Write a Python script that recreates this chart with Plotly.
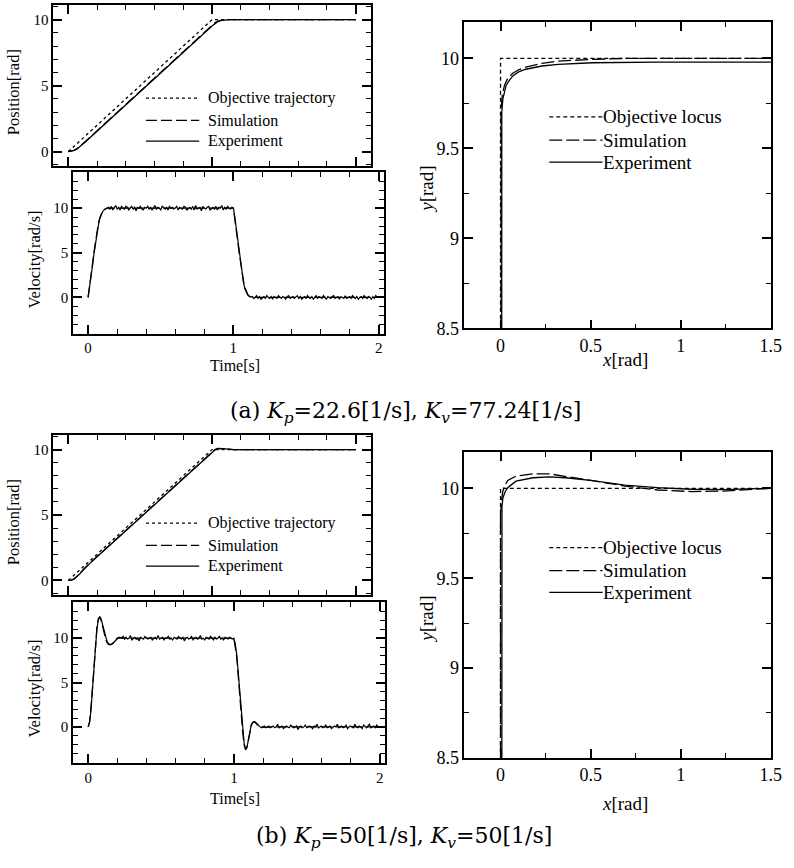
import plotly.graph_objects as go

W, H = 794, 868
FONT = "Liberation Serif, Times New Roman, Times, serif"
CAP_FONT = "DejaVu Serif, serif"

# ---------------- data: (a) Kp=22.6, Kv=77.24 ----------------
POS_OBJ_T = [0.0, 1.0, 2.0]
POS_OBJ_P = [0.0, 10.0, 10.0]

POS_T = [0.0, 0.02, 0.04, 0.06, 0.08, 0.10, 0.12, 0.15, 0.2, 0.5, 1.0, 1.02, 1.04, 1.06, 1.08, 1.10, 1.12, 1.15, 2.0]
POS_A_EXP = [0.0, 0.02, 0.08, 0.2, 0.36, 0.55, 0.74, 1.04, 1.53, 4.53, 9.53, 9.72, 9.85, 9.93, 9.97, 9.99, 10.0, 10.0, 10.0]
POS_A_SIM = [0.0, 0.02, 0.09, 0.22, 0.39, 0.58, 0.78, 1.08, 1.58, 4.58, 9.58, 9.77, 9.89, 9.95, 9.98, 10.0, 10.0, 10.0, 10.0]

VEL_A_SIM_T = [0.0, 0.01, 0.02, 0.03, 0.04, 0.05, 0.06, 0.07, 0.08, 0.09, 0.10, 0.11, 0.12, 0.13, 1.0,
               1.01, 1.02, 1.03, 1.04, 1.05, 1.06, 1.07, 1.08, 1.09, 1.10, 1.11, 1.12, 1.14, 2.0]
VEL_A_SIM = [0.0, 1.1, 2.4, 3.7, 5.0, 6.2, 7.3, 8.2, 8.9, 9.4, 9.7, 9.85, 9.95, 10.0, 10.0,
             8.9, 7.6, 6.3, 5.0, 3.8, 2.7, 1.8, 1.1, 0.6, 0.3, 0.15, 0.05, 0.0, 0.0]

# experiment velocity sampled every 0.01 s from 0 to 2 s
VEL_A_EXP = [
    0.0, 1.0, 2.2, 3.5, 4.8, 6.0, 7.1, 8.0, 8.8, 9.3, 9.6, 9.8, 9.9, 10.0,
    10.1, 9.9, 10.2, 9.8, 10.0, 10.3, 9.9, 10.1, 9.8, 10.2,
    10.0, 9.9, 10.2, 10.1, 9.8, 10.0, 10.2, 9.9, 10.1, 9.7,
    10.1, 10.0, 10.2, 9.9, 9.8, 10.1, 10.0, 10.2, 9.9, 10.1,
    9.8, 10.0, 10.3, 9.9, 10.1, 10.0, 9.8, 10.2, 10.0, 9.9,
    10.1, 9.8, 10.2, 10.0, 10.1, 9.9, 10.0, 10.2, 9.8, 10.1,
    10.0, 9.9, 10.2, 10.1, 9.8, 10.0, 10.1, 9.9, 10.2, 9.8,
    10.3, 9.9, 10.0, 10.1, 9.7, 10.2, 10.0, 9.9, 10.1, 10.2,
    9.8, 10.0, 10.1, 9.9, 10.2, 9.8, 10.1, 10.0, 10.3, 9.8,
    10.1, 9.9, 10.2, 10.0, 9.9, 10.1, 10.0,
    9.0, 7.8, 6.4, 5.0, 3.7, 2.5, 1.6, 0.9, 0.5, 0.25, 0.1, 0.05,
    0.1, -0.1, 0.0, 0.2, -0.1, 0.1, -0.2, 0.0, 0.1, -0.1,
    0.2, 0.0, -0.1, 0.1, -0.2, 0.1, 0.0, -0.1, 0.2, 0.0,
    -0.1, 0.1, 0.0, -0.2, 0.1, 0.2, -0.1, 0.0, 0.1, -0.1,
    0.0, 0.2, -0.1, 0.1, -0.2, 0.0, 0.1, -0.1, 0.2, 0.0,
    -0.1, 0.1, -0.2, 0.0, 0.2, -0.1, 0.1, 0.0, -0.1, 0.2,
    0.0, -0.2, 0.1, 0.0, -0.1, 0.1, 0.2, -0.1, 0.0, 0.1,
    -0.2, 0.1, 0.0, -0.1, 0.2, -0.1, 0.0, 0.1, -0.1, 0.2,
    0.0, -0.1, 0.1, -0.2, 0.0, 0.1, -0.1, 0.2, 0.0, -0.1,
    0.1, 0.0, -0.2, 0.1, -0.1, 0.2, 0.0, 0.0,
]

XY_OBJ_X = [0.0, 0.0, 1.5]
XY_OBJ_Y = [0.0, 10.0, 10.0]
XY_A_SIM_X = [0.0, 0.0, 0.003, 0.01, 0.022, 0.04, 0.068, 0.1, 0.14, 0.23, 0.32, 0.51, 0.69, 1.0, 1.5]
XY_A_SIM_Y = [0.0, 9.6, 9.72, 9.8, 9.85, 9.89, 9.918, 9.937, 9.952, 9.973, 9.985, 9.995, 10.0, 10.0, 10.0]
XY_A_EXP_X = [0.004, 0.004, 0.007, 0.013, 0.031, 0.05, 0.068, 0.1, 0.14, 0.23, 0.32, 0.51, 0.87, 1.5]
XY_A_EXP_Y = [0.0, 9.55, 9.7, 9.775, 9.85, 9.88, 9.903, 9.925, 9.94, 9.958, 9.967, 9.976, 9.98, 9.98]

# ---------------- data: (b) Kp=50, Kv=50 ----------------
POS_B_T = [0.0, 0.02, 0.04, 0.06, 0.08, 0.10, 0.12, 0.15, 0.2, 0.5, 1.0, 1.02, 1.04, 1.06, 1.08, 1.10, 1.12, 1.15, 1.2, 2.0]
POS_B_EXP = [0.0, 0.02, 0.1, 0.27, 0.5, 0.75, 0.99, 1.3, 1.8, 4.8, 9.8, 9.97, 10.07, 10.1, 10.08, 10.05, 10.02, 10.0, 10.0, 10.0]
POS_B_SIM = [0.0, 0.02, 0.11, 0.29, 0.53, 0.78, 1.02, 1.33, 1.82, 4.82, 9.82, 10.0, 10.09, 10.11, 10.08, 10.04, 10.01, 9.99, 10.0, 10.0]

VEL_B_SIM_T = [0.0, 0.01, 0.02, 0.03, 0.04, 0.05, 0.06, 0.07, 0.08, 0.09, 0.10, 0.11, 0.12, 0.13, 0.14,
               0.15, 0.16, 0.17, 0.18, 0.19, 0.20, 0.22, 0.26, 1.0,
               1.01, 1.02, 1.03, 1.04, 1.05, 1.06, 1.07, 1.08, 1.09, 1.10, 1.11, 1.12, 1.13, 1.14, 1.15,
               1.16, 1.18, 1.22, 1.26, 2.0]
VEL_B_SIM = [0.0, 0.6, 2.2, 4.4, 7.0, 9.2, 11.1, 12.2, 12.4, 12.0, 11.3, 10.5, 9.9, 9.5, 9.3,
             9.25, 9.3, 9.45, 9.65, 9.85, 10.0, 10.05, 10.0, 10.0,
             9.1, 7.8, 5.7, 3.5, 1.4, -0.5, -2.0, -2.6, -2.3, -1.4, -0.4, 0.2, 0.5, 0.55, 0.45,
             0.25, 0.0, -0.05, 0.0, 0.0]

VEL_B_EXP = [
    0.0, 0.5, 2.0, 4.2, 6.8, 9.0, 11.0, 12.1, 12.4, 12.1, 11.5, 10.7, 10.0, 9.6, 9.4,
    9.3, 9.3, 9.4, 9.6, 9.8, 10.0, 10.1, 10.1, 10.0, 10.2, 9.9,
    10.1, 9.9, 10.0, 10.3, 9.8, 10.0, 10.1, 9.9, 10.0, 9.7,
    10.1, 10.0, 9.9, 10.2, 10.0, 9.9, 10.0, 10.1, 9.8, 10.0,
    10.1, 9.9, 10.3, 9.9, 10.0, 10.1, 9.8, 10.0, 10.0, 10.2,
    9.9, 10.0, 9.8, 10.1, 10.0, 9.9, 10.2, 10.0, 9.9, 10.1,
    9.7, 10.0, 10.1, 9.9, 10.0, 10.2, 9.8, 10.0, 10.1, 9.9,
    10.0, 10.3, 9.9, 10.0, 9.8, 10.1, 10.0, 9.9, 10.2, 10.0,
    9.8, 10.1, 9.9, 10.0, 10.2, 9.9, 10.0, 9.8, 10.1, 10.0,
    9.9, 10.1, 10.0, 9.9, 10.0,
    9.3, 8.1, 6.1, 4.0, 1.9, -0.1, -1.8, -2.5, -2.3, -1.4, -0.3, 0.3, 0.5, 0.6, 0.5,
    0.3, 0.1, 0.0, -0.1, 0.0, 0.1, -0.1, 0.0, 0.1, -0.1,
    0.0, 0.1, -0.1, 0.0, 0.3, -0.1, 0.0, 0.1, -0.2, 0.0,
    0.1, 0.0, -0.1, 0.2, 0.0, -0.1, 0.0, 0.1, -0.3, 0.0,
    0.1, -0.1, 0.0, 0.2, -0.1, 0.0, 0.1, 0.0, -0.2, 0.1,
    0.0, 0.3, -0.1, 0.0, 0.1, -0.1, 0.0, 0.2, -0.1, 0.0,
    0.1, -0.2, 0.0, 0.1, 0.0, 0.3, -0.1, 0.0, 0.1, -0.1,
    0.0, 0.2, -0.2, 0.0, 0.1, 0.0, -0.1, 0.3, 0.0, -0.1,
    0.1, 0.0, -0.2, 0.2, 0.0, -0.1, 0.1, 0.3, -0.1, 0.0,
    0.1, -0.1, 0.2, 0.0, 0.0,
]

XY_B_SIM_X = [0.0, 0.0, 0.005, 0.012, 0.022, 0.04, 0.086, 0.18, 0.27, 0.36, 0.5, 0.69, 0.87, 1.06, 1.24, 1.42, 1.5]
XY_B_SIM_Y = [0.0, 9.85, 9.93, 9.98, 10.013, 10.044, 10.068, 10.081, 10.081, 10.068, 10.044, 10.013, 9.991, 9.982, 9.985, 9.996, 10.0]
XY_B_EXP_X = [0.004, 0.004, 0.008, 0.013, 0.025, 0.04, 0.086, 0.18, 0.27, 0.36, 0.5, 0.69, 0.87, 1.06, 1.24, 1.42, 1.5]
XY_B_EXP_Y = [0.0, 9.8, 9.9, 9.945, 9.98, 10.004, 10.04, 10.059, 10.064, 10.059, 10.044, 10.018, 10.004, 9.995, 9.993, 9.998, 10.0]

VEL_T = [round(i * 0.01, 2) for i in range(len(VEL_A_EXP))]

POS_LEGEND = ["Objective trajectory", "Simulation", "Experiment"]
XY_LEGEND = ["Objective locus", "Simulation", "Experiment"]
CAPTION_A = "(a) <i>K</i><sub><i>p</i></sub>=22.6[1/s], <i>K</i><sub><i>v</i></sub>=77.24[1/s]"
CAPTION_B = "(b) <i>K</i><sub><i>p</i></sub>=50[1/s], <i>K</i><sub><i>v</i></sub>=50[1/s]"

DOT = "3px,3px"
DASH = "11px,4px"
XY_DOT = "4px,3px"
XY_DASH = "13px,4px"
LW = 1.3
TICKC = "black"

def px_x(p):
    return p / W

def px_y(p):
    return 1 - p / H

fig = go.Figure()

def add(xs, ys, dash, ax, width=LW):
    fig.add_trace(go.Scatter(x=xs, y=ys, mode="lines", showlegend=False,
                             line=dict(color="black", width=width, dash=dash),
                             xaxis="x" + ax, yaxis="y" + ax))

add(POS_OBJ_T, POS_OBJ_P, DOT, "")
add(POS_T, POS_A_SIM, DASH, "")
add(POS_T, POS_A_EXP, "solid", "")
add(VEL_A_SIM_T, VEL_A_SIM, DASH, "2")
add(VEL_T, VEL_A_EXP, "solid", "2", 1.2)
add(XY_OBJ_X, XY_OBJ_Y, XY_DOT, "3")
add(XY_A_SIM_X, XY_A_SIM_Y, XY_DASH, "3")
add(XY_A_EXP_X, XY_A_EXP_Y, "solid", "3")
add(POS_OBJ_T, POS_OBJ_P, DOT, "4")
add(POS_B_T, POS_B_SIM, DASH, "4")
add(POS_B_T, POS_B_EXP, "solid", "4")
add(VEL_B_SIM_T, VEL_B_SIM, DASH, "5")
add(VEL_T, VEL_B_EXP, "solid", "5", 1.2)
add(XY_OBJ_X, XY_OBJ_Y, XY_DOT, "6")
add(XY_B_SIM_X, XY_B_SIM_Y, XY_DASH, "6")
add(XY_B_EXP_X, XY_B_EXP_Y, "solid", "6")

def axis(domain, rng, dtick, minor_dtick, anchor, labels=True, fsize=15, ticklen=9,
         minorlen=5, mirror="allticks"):
    return dict(domain=domain, range=rng, dtick=dtick, tick0=0, anchor=anchor,
                showline=True, linecolor="black", linewidth=1.5, mirror=mirror,
                ticks="inside", ticklen=ticklen, tickwidth=1.6, tickcolor=TICKC,
                showgrid=False, zeroline=False, showticklabels=labels,
                tickfont=dict(family=FONT, size=fsize, color="black"),
                minor=dict(ticks="inside", ticklen=minorlen, tickwidth=1.4, tickcolor=TICKC,
                           dtick=minor_dtick, showgrid=False))

BOX = {
    "1": (54, 5, 376, 168),
    "2": (74, 174, 389, 337.5),
    "3": (471, 22.7, 781.7, 332.3),
    "4": (54, 440, 376, 601.7),
    "5": (74, 609.3, 390, 771.7),
    "6": (471, 457.7, 781.7, 766.7),
}

def dom(k):
    l, t, r, b = BOX[k]
    return [px_x(l), px_x(r)], [px_y(b), px_y(t)]

for k, kind in [("1", "pos"), ("2", "vel"), ("3", "xy"), ("4", "pos"), ("5", "vel"), ("6", "xy")]:
    dx, dy = dom(k)
    xn = "xaxis" if k == "1" else "xaxis" + k
    yn = "yaxis" if k == "1" else "yaxis" + k
    xa = "x" if k == "1" else "x" + k
    ya = "y" if k == "1" else "y" + k
    if kind == "pos":
        xcfg = axis(dx, [-0.105, 2.105], 1, 0.2, ya, labels=False)
        ycfg = axis(dy, [-1.1, 11.12], 5, 1, xa)
    elif kind == "vel":
        xcfg = axis(dx, [-0.104, 2.034], 1, 0.2, ya)
        ycfg = axis(dy, [-4.05, 14.05], 5, 1, xa)
    else:
        xcfg = axis(dx, [-0.2, 1.5], 0.5, 0.25, ya, fsize=18, mirror="ticks")
        ycfg = axis(dy, [8.5, 10.2], 0.5, 0.25, xa, fsize=18, mirror="ticks")
    fig.update_layout({xn: xcfg, yn: ycfg})

fig.update_layout(width=W, height=H, margin=dict(l=0, r=0, t=0, b=0),
                  paper_bgcolor="white", plot_bgcolor="white", showlegend=False)

annotations = []
shapes = []

def text(px, py, s, size, angle=0, anchor="center", family=FONT):
    annotations.append(dict(x=px_x(px), y=px_y(py), xref="paper", yref="paper", text=s,
                            showarrow=False, textangle=angle, xanchor=anchor, yanchor="middle",
                            font=dict(family=family, size=size, color="black")))

for off in (0, 435):
    text(14, 93.5 + off, "Position[rad]", 16.5, -90)
for py in (263, 697):
    text(35, py, "Velocity[rad/s]", 16.5, -90)
for py in (370, 808):
    text(238, py, "Time[s]", 16)
for py in (192, 627):
    text(433, py, "<i>y</i>[rad]", 19, -90)
for py in (364, 813):
    text(634, py, "<i>x</i>[rad]", 19)

text(411, 417, CAPTION_A, 22, family=CAP_FONT)
text(410, 847, CAPTION_B, 22, family=CAP_FONT)

def legend(x0, x1, xt, rows, labels, dashes, size):
    for py, lab, d in zip(rows, labels, dashes):
        shapes.append(dict(type="line", xref="paper", yref="paper",
                           x0=px_x(x0), x1=px_x(x1), y0=px_y(py), y1=px_y(py),
                           line=dict(color="black", width=LW, dash=d)))
        text(xt, py, lab, size, anchor="left")

legend(148, 202, 209, [99.3, 121.7, 142.7], POS_LEGEND, [DOT, DASH, "solid"], 16)
legend(148, 202, 209, [529.3, 551.7, 572.7], POS_LEGEND, [DOT, DASH, "solid"], 16)
legend(557, 611, 609, [118.3, 141.7, 164], XY_LEGEND, [XY_DOT, XY_DASH, "solid"], 19)
legend(557, 611, 609, [554, 577.3, 599.3], XY_LEGEND, [XY_DOT, XY_DASH, "solid"], 19)

fig.update_layout(annotations=annotations, shapes=shapes)
fig.write_html("out.html")
